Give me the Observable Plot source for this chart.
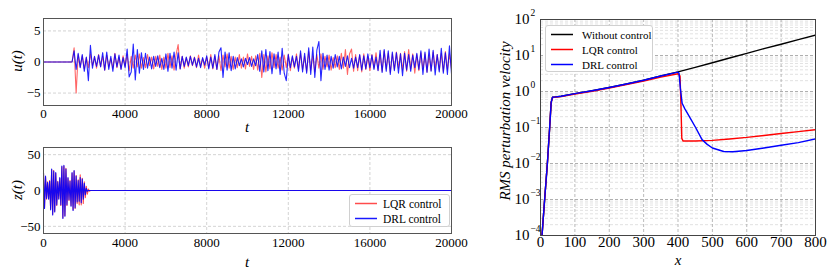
<!DOCTYPE html>
<html><head><meta charset="utf-8">
<script src="https://cdn.jsdelivr.net/npm/d3@7"></script>
<script src="https://cdn.jsdelivr.net/npm/@observablehq/plot@0.6"></script>
<style>
body{margin:0;background:#fff;}
#fig{position:relative;width:830px;height:270px;overflow:hidden;font-family:'Liberation Serif',serif;color:#000;}
#fig svg text{font-family:'Liberation Serif',serif !important;}
.panel{position:absolute;}
.lab{position:absolute;font-style:italic;font-size:15px;white-space:nowrap;transform:translate(-50%,-50%);line-height:1;}
.rot{transform:translate(-50%,-50%) rotate(-90deg);}
.legend{position:absolute;border:1px solid #d0d0d0;border-radius:3px;background:#fff;box-sizing:border-box;font-family:'Liberation Serif',serif;}
.row{display:flex;align-items:center;height:15px;}
.row svg{display:block;}
</style></head>
<body><div id="fig"></div>
<script>
// ---------- data ----------
const tMax = 20000;
const uStep = 100;           // u(t) sampled every 100 time units, t = 0..20000
const uLQR = [
0,0,0,0,0,0,0,0,0,0,0,0,0,0,0,
2.3,-5.0,1.2,-0.8,1.0,-1.1,0.7,-0.9,1.3,-0.6,
0.8,-1.0,1.2,-0.7,0.9,-1.3,1.1,-0.8,0.6,-1.0,
1.4,-0.9,0.8,-1.1,1.0,-0.7,1.2,-1.4,0.9,-1.0,
1.1,-0.8,1.3,-1.0,0.7,-0.9,1.2,-0.6,0.8,-1.1,
0.9,-0.7,1.1,-1.2,0.8,-1.0,1.4,-0.9,1.0,-1.3,
1.2,2.8,-1.1,0.9,-1.0,0.7,-0.8,1.0,-0.6,0.8,
-0.9,1.1,-0.7,0.6,-1.0,0.8,-0.9,1.2,-1.1,0.9,
-1.2,1.0,-1.4,1.1,-0.8,1.3,-1.0,0.9,-1.2,0.8,
-0.9,1.2,-1.0,0.8,-1.1,1.3,-0.7,0.9,-1.2,1.0,
-1.3,1.4,-2.5,1.2,-1.6,1.0,-1.1,1.5,-0.9,1.2,
-1.0,0.8,-1.3,1.1,-0.9,1.2,-1.4,0.8,-1.0,1.3,
-1.1,1.4,-1.2,0.9,-1.5,1.7,-1.3,1.0,-1.6,1.2,
-1.0,1.3,-1.2,0.9,-0.8,1.1,-1.3,0.7,-0.9,1.0,
-1.2,1.4,-1.0,2.0,-2.0,1.3,2.1,-1.5,1.2,-1.4,
1.1,-1.6,1.3,-1.2,0.9,-1.4,1.2,-1.0,1.5,-1.3,
1.2,-1.5,1.8,-1.1,1.4,-1.7,1.3,-1.2,1.6,-1.0,
1.4,-1.3,1.7,-1.5,2.0,-1.1,1.3,-1.8,1.2,-1.4,
1.5,-1.2,1.3,-1.6,1.1,-1.4,1.6,-1.0,1.2,-1.3,
1.4,-1.5,1.7,-1.2,1.3,-1.1
];
const uDRL = [
0,0,0,0,0,0,0,0,0,0,0,0,0,0,0,
1.8,-1.2,1.4,-0.9,1.2,-1.5,0.8,-3.0,2.7,-1.0,
0.9,-0.7,1.1,-0.8,1.5,-1.3,1.6,-1.2,0.9,-1.5,
1.3,-0.8,1.1,-1.2,0.7,-0.9,2.1,-2.4,-1.6,2.9,
-2.9,2.0,-1.8,1.5,-1.2,1.4,-1.0,0.8,-1.1,0.9,
-0.7,1.0,-0.9,0.6,-1.2,1.3,-1.5,1.4,-1.0,1.6,
-1.3,1.5,-1.1,0.9,-0.7,0.8,-0.6,0.9,-0.5,0.7,
-0.8,0.6,-0.9,0.7,-0.5,1.0,-1.1,0.8,-1.0,1.2,
-1.2,1.6,2.3,-2.5,1.6,-1.3,1.5,-1.4,0.9,-1.1,
0.7,-0.6,0.5,-0.8,0.6,-0.4,0.7,-0.7,0.5,-0.6,
1.2,-1.5,1.8,-1.6,2.0,-1.4,1.7,-1.9,1.3,-1.1,
1.6,-2.0,2.2,-1.8,-3.0,1.2,-0.9,1.0,-0.8,0.9,
-1.5,1.8,-1.6,1.4,-1.8,2.3,-2.0,2.4,-2.5,1.9,
3.3,-3.0,1.4,-1.2,1.1,-1.3,0.9,-1.0,1.2,-0.8,
0.9,-1.1,0.8,-0.7,1.0,-0.9,0.6,-1.0,0.8,-0.9,
1.2,-1.3,1.0,-1.1,1.3,-0.9,1.1,-1.2,0.8,-1.4,
1.9,-1.7,2.0,-1.5,1.8,-2.0,1.6,-1.4,1.5,-1.8,
1.3,-2.2,1.4,-1.3,1.2,-1.5,1.1,-0.9,1.4,-1.2,
1.8,-2.0,1.6,-1.7,2.1,-1.5,1.9,-2.1,1.2,-1.6,
2.2,-1.8,1.5,-2.0,2.6,-1.9
];
const zStep = 50;            // z(t) sampled every 50 time units for t = 0..2300, then stays 0
const zLQR = [24,-24,19,-12,12,-11,14,-26,29,-33,28,-29,24,-21,13,-11,17,-21,33,-38,
34,-35,31,-21,17,-14,14,-21,24,-27,27,-25,21,-18,15,-20,22,-20,17,-18,12,-10,6,-5,2,-1,0];
const zDRL = [25,-25,20,-11,11,-12,13,-27,30,-34,27,-30,25,-20,12,-12,18,-20,34,-39,
35,-36,30,-20,18,-13,13,-22,25,-28,28,-24,20,-16,14,-15,18,-17,16,-12,10,-6,3,-1,0,0,0];

const tTicks = [0,4000,8000,12000,16000,20000];
const uTicks = [-5,0,5];
const zTicks = [-50,0,50];

const xNo  = [0,5,12,20,26,31,35,40,60,100,150,200,250,300,350,400,450,500,550,600,650,700,750,800];
const yNo  = [3e-5,1.2e-4,1e-3,1e-2,0.08,0.5,0.69,0.70,0.74,0.87,1.05,1.29,1.62,2.05,2.7,3.5,4.7,6.3,8.5,11.5,15.5,20.5,27.5,37];
const xLQR = [0,5,12,20,26,31,35,40,60,100,150,200,250,300,350,400,406,409,411,415,450,500,550,600,650,700,750,800];
const yLQR = [3e-5,1.2e-4,1e-3,1e-2,0.08,0.5,0.68,0.69,0.72,0.85,1.02,1.25,1.57,1.95,2.5,3.1,2.7,0.3,0.05,0.042,0.042,0.044,0.048,0.053,0.06,0.068,0.077,0.087];
const xDRL = [0,5,12,20,26,31,35,40,60,100,150,200,250,300,350,400,403,407,412,420,436,450,470,485,500,533,560,600,650,700,750,800];
const yDRL = [3e-5,1.2e-4,1e-3,1e-2,0.08,0.5,0.69,0.70,0.74,0.87,1.05,1.29,1.62,2.05,2.7,3.45,3.2,1.2,0.47,0.33,0.18,0.105,0.046,0.034,0.027,0.0215,0.0213,0.023,0.027,0.032,0.038,0.048];

const xTicksR = [0,100,200,300,400,500,600,700,800];
const yDecades = [1e-4,1e-3,1e-2,1e-1,1e0,1e1,1e2];
const yExpLabels = ["\u22124","\u22123","\u22122","\u22121","0","1","2"];

const legendLeft = ["LQR control","DRL control"];
const legendRight = ["Without control","LQR control","DRL control"];

// ---------- helpers ----------
const RED = "#ff0000", BLUE = "#0000ff", BLACK = "#000000";
const font = "'Liberation Serif', serif";
const fig = document.getElementById("fig");
function place(node, left, top){ node.classList.add("panel"); node.style.left=left+"px"; node.style.top=top+"px"; fig.appendChild(node); }
function label(text, x, y, rot){ const d=document.createElement("div"); d.className="lab"+(rot?" rot":""); d.textContent=text; d.style.left=x+"px"; d.style.top=y+"px"; fig.appendChild(d); }
function legend(items, colors, opac, left, top, w, h, fs, swL, gap){
  const L=document.createElement("div"); L.className="legend";
  Object.assign(L.style,{left:left+"px",top:top+"px",width:w+"px",height:h+"px",fontSize:fs+"px",paddingTop:"1px"});
  items.forEach((t,i)=>{
    const r=document.createElement("div"); r.className="row";
    r.innerHTML=`<svg width="${swL+22+gap}" height="15"><line x1="${swL}" x2="${swL+22}" y1="7.5" y2="7.5" stroke="${colors[i]}" stroke-opacity="${opac[i]}" stroke-width="1.5"/></svg><span>${t}</span>`;
    L.appendChild(r);
  });
  fig.appendChild(L);
}
const uData = (arr)=>arr.map((v,i)=>({t:i*uStep, v}));
const zData = (arr)=>arr.map((v,i)=>({t:i*zStep, v})).concat([{t:tMax, v:arr[arr.length-1]}]);
const fmtInt = d=>String(d);
const gridStyle = {stroke:"#c8c8c8", strokeOpacity:1, strokeDasharray:"3,2", strokeWidth:0.8};

// ---------- top-left: u(t) ----------
const p1 = Plot.plot({
  width:470, height:135, marginLeft:43, marginRight:19, marginTop:18, marginBottom:30,
  style:{fontFamily:font, fontSize:"13px", background:"transparent", overflow:"visible"},
  x:{domain:[0,tMax], axis:null}, y:{domain:[-7,7], axis:null},
  marks:[
    Plot.gridX(tTicks, gridStyle),
    Plot.gridY(uTicks, gridStyle),
    Plot.line(uData(uLQR), {x:"t", y:"v", stroke:RED, strokeOpacity:0.6, strokeWidth:1.1}),
    Plot.line(uData(uDRL), {x:"t", y:"v", stroke:BLUE, strokeOpacity:0.85, strokeWidth:1.1}),
    Plot.frame({stroke:"#555"}),
    Plot.axisX(tTicks, {tickSize:0, tickPadding:3, tickFormat:fmtInt, label:null, fontSize:13}),
    Plot.axisY(uTicks, {tickSize:0, tickPadding:3, label:null, fontSize:13})
  ]
});
place(p1, 0, 0);

// ---------- bottom-left: z(t) ----------
const p2 = Plot.plot({
  width:470, height:135, marginLeft:43, marginRight:19, marginTop:12, marginBottom:37,
  style:{fontFamily:font, fontSize:"13px", background:"transparent", overflow:"visible"},
  x:{domain:[0,tMax], axis:null}, y:{domain:[-60,60], axis:null},
  marks:[
    Plot.gridX(tTicks, gridStyle),
    Plot.gridY(zTicks, gridStyle),
    Plot.line(zData(zLQR), {x:"t", y:"v", stroke:RED, strokeOpacity:0.7, strokeWidth:1.1}),
    Plot.line(zData(zDRL), {x:"t", y:"v", stroke:BLUE, strokeOpacity:0.9, strokeWidth:1.1}),
    Plot.frame({stroke:"#555"}),
    Plot.axisX(tTicks, {tickSize:0, tickPadding:4, tickFormat:fmtInt, label:null, fontSize:13}),
    Plot.axisY(zTicks, {tickSize:0, tickPadding:3, label:null, fontSize:13})
  ]
});
place(p2, 0, 135);

// ---------- right: RMS perturbation velocity ----------
const minorTicks = d3.range(-4,2).flatMap(e=>d3.range(2,10).map(m=>m*Math.pow(10,e)));
const line = (xs, ys)=>xs.map((x,i)=>({x, y:ys[i]}));
const p3 = Plot.plot({
  width:360, height:270, marginLeft:70, marginRight:15, marginTop:19, marginBottom:35,
  style:{fontFamily:font, fontSize:"15px", background:"transparent", overflow:"visible"},
  x:{domain:[0,800], axis:null}, y:{type:"log", domain:[1e-4,1e2], axis:null},
  marks:[
    Plot.gridY(minorTicks, {stroke:"#d6d6d6", strokeOpacity:1, strokeDasharray:"3,2", strokeWidth:0.7}),
    Plot.gridY(yDecades, {stroke:"#9a9a9a", strokeOpacity:1, strokeDasharray:"3,2", strokeWidth:0.8}),
    Plot.gridX(xTicksR, {stroke:"#a8a8a8", strokeOpacity:1, strokeDasharray:"3,2", strokeWidth:0.8}),
    Plot.line(line(xNo,yNo), {x:"x", y:"y", stroke:BLACK, strokeWidth:1.4, clip:true}),
    Plot.line(line(xLQR,yLQR), {x:"x", y:"y", stroke:RED, strokeWidth:1.4, clip:true}),
    Plot.line(line(xDRL,yDRL), {x:"x", y:"y", stroke:BLUE, strokeWidth:1.4, clip:true}),
    Plot.frame({stroke:"#444"}),
    Plot.axisX(xTicksR, {tickSize:0, tickPadding:1, tickFormat:fmtInt, label:null, fontSize:15}),
    Plot.text(yDecades, {y:d=>d, frameAnchor:"left", text:()=> "10", textAnchor:"end", dx:-11, fontSize:15}),
    Plot.text(yDecades, {y:d=>d, frameAnchor:"left", text:(d,i)=>yExpLabels[i], textAnchor:"start", dx:-10, dy:-7, fontSize:9.5})
  ]
});
place(p3, 470, 0);

// ---------- axis labels ----------
label("u(t)", 17, 61, true);
label("t", 247, 127, false);
label("z(t)", 17, 190, true);
label("t", 247, 262, false);
label("x", 678, 260, false);
label("RMS perturbation velocity", 505, 121, true);

// ---------- legends ----------
legend(legendLeft, [RED, BLUE], [0.7, 0.9], 349, 194, 101, 33, 11.5, 5, 6);
legend(legendRight, [BLACK, RED, BLUE], [1,1,1], 545, 25, 108, 47, 11, 5, 9);
</script></body></html>
